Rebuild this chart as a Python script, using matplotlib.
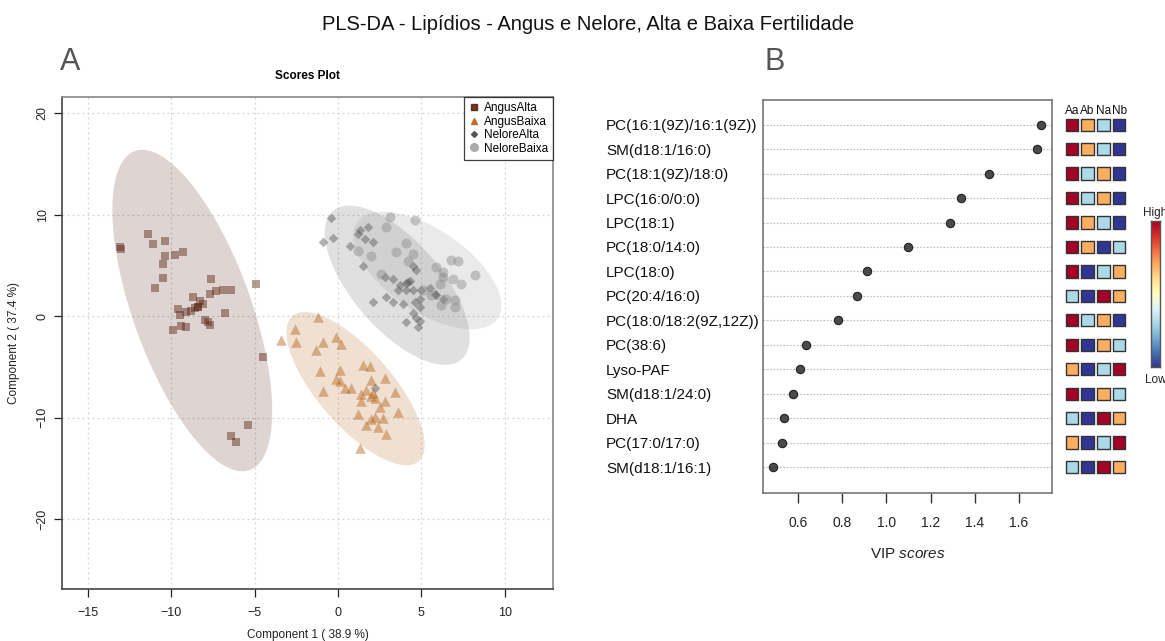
import numpy as np
import matplotlib
matplotlib.use("Agg")
import matplotlib.pyplot as plt
from matplotlib.colors import ListedColormap

plt.rcParams['font.family'] = ['Liberation Sans', 'DejaVu Sans']
plt.rcParams['mathtext.fontset'] = 'custom'
plt.rcParams['mathtext.rm'] = 'Liberation Sans'
plt.rcParams['mathtext.it'] = 'Liberation Sans:italic'

# ---------------- Panel A data (scores) ----------------
groups = ["AngusAlta", "AngusBaixa", "NeloreAlta", "NeloreBaixa"]

angus_alta_x = [-13.1, -13.0, -11.4, -11.1, -10.4, -10.4, -9.8, -9.3, -10.5, -10.5, -11.0, -7.6, -4.9,
                -8.7, -8.3, -7.7, -7.3, -6.9, -6.4, -8.6, -8.8, -8.4, -9.6, -9.5, -9.1, -6.8, -8.0,
                -7.7, -7.8, -9.9, -9.4, -9.1, -8.1, -8.4, -4.5, -5.4, -6.4, -6.1]
angus_alta_y = [6.8, 6.6, 8.1, 7.1, 7.4, 5.9, 6.0, 6.3, 5.1, 3.8, 2.8, 3.7, 3.2,
                1.9, 1.5, 2.2, 2.5, 2.6, 2.6, 0.8, 0.5, 0.9, 0.7, 0.1, 0.4, 0.3, -0.4,
                -0.9, -0.6, -1.4, -1.0, -1.1, 1.2, 0.9, -4.0, -10.7, -11.8, -12.4]

angus_baixa_x = [-1.2, -2.6, -3.4, -2.5, -1.3, -0.9, -0.1, 0.2, 1.5, 1.9, -1.1, 0.1, -0.1, 0.1, 2.0,
                 2.8, 0.4, 0.8, -0.9, 1.4, 1.7, 2.0, 2.2, 3.4, 1.4, 2.8, 2.5, 1.2, 3.6, 2.2, 2.7,
                 1.7, 2.4, 2.9, 1.3, 2.0, 2.1]
angus_baixa_y = [-0.1, -1.3, -2.4, -2.6, -3.3, -2.6, -2.1, -2.7, -4.8, -4.9, -5.4, -5.3, -6.2, -6.4, -6.3,
                 -6.1, -7.1, -7.1, -7.4, -7.7, -7.3, -7.9, -8.1, -7.5, -8.4, -8.4, -9.0, -9.6, -9.5, -9.9, -10.0,
                 -10.7, -10.9, -11.6, -13.0, -10.1, -7.6]

nelore_alta_x = [-0.4, -0.9, -0.3, 0.7, 1.2, 1.3, 1.8, 1.6, 2.1, 1.5, 2.8, 3.3, 3.7, 3.6, 4.2, 4.3, 4.1,
                 4.5, 4.7, 4.1, 4.5, 5.0, 5.5, 5.8, 2.9, 3.3, 3.9, 2.1, 4.6, 4.9, 4.9, 4.5, 4.1, 4.7,
                 4.9, 4.8, 6.3, 5.9, 2.2]
nelore_alta_y = [9.7, 7.3, 7.7, 6.9, 8.1, 8.5, 8.8, 7.6, 7.3, 4.9, 3.9, 3.7, 3.1, 2.6, 3.4, 3.5, 3.3,
                 4.9, 4.5, 2.6, 2.6, 2.6, 2.8, 2.2, 1.9, 1.4, 1.2, 1.4, 1.4, 1.7, 0.9, 0.3, -0.6, -0.2,
                 -0.5, -1.1, 1.7, 2.1, -7.1]

nelore_baixa_x = [3.1, 4.6, 2.9, 4.1, 3.5, 4.5, 1.2, 2.0, 4.2, 2.6, 5.9, 6.3, 6.3, 6.8, 7.2, 8.2, 6.1,
                  6.9, 7.4, 5.1, 5.6, 6.5, 7.0, 6.2, 7.0]
nelore_baixa_y = [9.8, 9.5, 8.8, 7.2, 6.3, 6.1, 6.4, 5.9, 5.4, 4.2, 4.8, 4.3, 3.9, 5.5, 5.4, 4.1, 3.2,
                  3.7, 3.2, 2.6, 2.1, 1.7, 1.6, 1.1, 0.9]

# 95% confidence ellipses: centre and shape matrix (sxx, syy, sxy)
ell_cx = [-8.75, 1.05, 3.55, 5.35]
ell_cy = [0.55, -7.15, 3.05, 4.5]
ell_sxx = [23.0, 17.2, 18.9, 19.8]
ell_syy = [251.0, 57.0, 61.6, 33.6]
ell_sxy = [-47.6, -23.0, -22.5, -15.4]

comp1_pct = 38.9
comp2_pct = 37.4

# ---------------- Panel B data (VIP) ----------------
features = ["PC(16:1(9Z)/16:1(9Z))", "SM(d18:1/16:0)", "PC(18:1(9Z)/18:0)", "LPC(16:0/0:0)",
            "LPC(18:1)", "PC(18:0/14:0)", "LPC(18:0)", "PC(20:4/16:0)", "PC(18:0/18:2(9Z,12Z))",
            "PC(38:6)", "Lyso-PAF", "SM(d18:1/24:0)", "DHA", "PC(17:0/17:0)", "SM(d18:1/16:1)"]
vip = [1.700, 1.681, 1.465, 1.338, 1.288, 1.098, 0.914, 0.867, 0.782, 0.635, 0.608, 0.576,
       0.538, 0.529, 0.488]
heat_cols = ["Aa", "Ab", "Na", "Nb"]
# relative level per group (4 = high ... 1 = low)
heat_aa = [4, 4, 4, 4, 4, 4, 4, 2, 4, 4, 3, 4, 2, 3, 2]
heat_ab = [3, 3, 2, 2, 3, 3, 1, 1, 2, 1, 1, 1, 1, 1, 1]
heat_na = [2, 2, 3, 3, 2, 1, 2, 4, 3, 3, 2, 3, 4, 2, 4]
heat_nb = [1, 1, 1, 1, 1, 2, 3, 3, 1, 2, 4, 2, 3, 4, 3]

# ---------------- styles ----------------
W, H = 1165, 641
fig = plt.figure(figsize=(W / 100, H / 100), dpi=100)

def fbox(x0, y0, x1, y1):
    return [x0 / W, 1 - y1 / H, (x1 - x0) / W, (y1 - y0) / H]

fig.text(588 / W, 1 - 24 / H, "PLS-DA - Lipídios - Angus e Nelore, Alta e Baixa Fertilidade",
         ha="center", va="center", fontsize=14.5, color="#111111")
fig.text(70 / W, 1 - 62 / H, "A", ha="center", va="center", fontsize=22, color="#555555")
fig.text(775 / W, 1 - 62 / H, "B", ha="center", va="center", fontsize=22, color="#555555")

# ---------------- Panel A ----------------
ax = fig.add_axes(fbox(62, 97, 553, 589))
base_cols = ["#5a2410", "#b5651d", "#555555", "#8c8c8c"]
ell_cols = ["#5a2a1a", "#b5651d", "#666666", "#999999"]
markers = ["s", "^", "D", "o"]
sizes = [40, 58, 24, 52]
xs = [angus_alta_x, angus_baixa_x, nelore_alta_x, nelore_baixa_x]
ys = [angus_alta_y, angus_baixa_y, nelore_alta_y, nelore_baixa_y]

t = np.linspace(0, 2 * np.pi, 300)
for i in range(4):
    S = np.array([[ell_sxx[i], ell_sxy[i]], [ell_sxy[i], ell_syy[i]]])
    L = np.linalg.cholesky(S)
    pts = L @ np.vstack([np.cos(t), np.sin(t)])
    ax.fill(ell_cx[i] + pts[0], ell_cy[i] + pts[1], color=ell_cols[i], alpha=0.2,
            lw=0, zorder=1)

for i in range(4):
    ax.scatter(xs[i], ys[i], marker=markers[i], s=sizes[i], color=base_cols[i],
               alpha=0.45, lw=0, zorder=3)

ax.set_xlim(-16.57, 12.9)
ax.set_ylim(-26.9, 21.6)
ax.set_xticks([-15, -10, -5, 0, 5, 10])
ax.set_yticks([-20, -10, 0, 10, 20])
ax.grid(True, color="#d4d4d4", linestyle=(0, (1.5, 2.5)), lw=0.9, zorder=0)
ax.set_axisbelow(True)
ax.tick_params(axis="both", length=6, width=0.9, color="#222222", labelsize=9, labelcolor="#222222")
ax.tick_params(axis="x", pad=7)
for lab in ax.get_yticklabels():
    lab.set_rotation(90)
    lab.set_va("center")
for s in ["top", "right"]:
    ax.spines[s].set_color("#888888")
for s in ["left", "bottom"]:
    ax.spines[s].set_color("#444444")
for s in ax.spines.values():
    s.set_linewidth(1.2)
ax.set_xlabel(f"Component 1 ( {comp1_pct} %)", fontsize=8.5, labelpad=7, color="#222222")
ax.set_ylabel(f"Component 2 ( {comp2_pct} %)", fontsize=8.5, labelpad=12, color="#222222")
ax.set_title("Scores Plot", fontsize=8.5, fontweight="bold", pad=13)

handles = [plt.Line2D([], [], marker=markers[i], color=base_cols[i] if i != 3 else "#aaaaaa",
                      ls="none", ms=[4, 4.5, 3, 5.5][i], alpha=0.9 if i < 2 else 1.0)
           for i in range(4)]
leg = ax.legend(handles, groups, loc="upper right", fontsize=8.5, frameon=True, fancybox=False,
                borderaxespad=0, handlelength=0.8, handletextpad=0.4, labelspacing=0.12,
                borderpad=0.45)
leg.get_frame().set_edgecolor("#111111")
leg.get_frame().set_linewidth(0.9)

# ---------------- Panel B ----------------
bx = fig.add_axes(fbox(763, 100, 1052, 492.7))
rows = np.arange(len(features))
for r in rows:
    bx.axhline(r, color="#bbbbbb", lw=0.8, ls=(0, (1.5, 1.5)), zorder=0)
bx.scatter(vip, rows, s=36, color="#4a4a4a", edgecolor="#222222", lw=0.8, zorder=3)
bx.set_ylim(15.05, -1.01)
bx.set_xlim(0.442, 1.749)
bx.set_yticks(rows)
bx.set_yticklabels(features, fontsize=11, color="#111111", ha="left")
bx.tick_params(axis="y", length=0, pad=157 * 0.72)
bx.set_xticks([0.6, 0.8, 1.0, 1.2, 1.4, 1.6])
bx.set_xticklabels(["0.6", "0.8", "1.0", "1.2", "1.4", "1.6"])
bx.tick_params(axis="x", length=7, width=1.0, color="#333333", labelsize=10, pad=10, labelcolor="#222222")
for s in bx.spines.values():
    s.set_color("#777777")
    s.set_linewidth(1.2)
bx.set_xlabel("VIP $\\mathit{scores}$", fontsize=11, labelpad=12, color="#222222")

# heatmap
hx = fig.add_axes(fbox(1063.75, 100, 1127.25, 492.7))
heat = np.array([heat_aa, heat_ab, heat_na, heat_nb])
hcmap = ListedColormap(["#313695", "#abd9e9", "#fdae61", "#a50026"])
for c in range(4):
    hx.scatter(np.full(len(features), c), rows, c=heat[c], cmap=hcmap, vmin=0.5, vmax=4.5,
               marker="s", s=78, edgecolors="#333333", linewidths=1.0)
    hx.text(c, -0.58, heat_cols[c], ha="center", va="center", fontsize=8.5, color="#111111")
hx.set_xlim(-0.5, 3.5)
hx.set_ylim(15.05, -1.01)
hx.axis("off")

# colour bar
cx = fig.add_axes(fbox(1151, 221, 1160, 367))
grad = np.linspace(0, 1, 256).reshape(-1, 1)
cx.imshow(grad, cmap="RdYlBu_r", aspect="auto", origin="lower")
cx.set_xticks([])
cx.set_yticks([])
for s in cx.spines.values():
    s.set_color("#555555")
    s.set_linewidth(1.0)
fig.text(1143 / W, 1 - 213 / H, "High", ha="left", va="center", fontsize=8.5, color="#222222")
fig.text(1145 / W, 1 - 380 / H, "Low", ha="left", va="center", fontsize=8.5, color="#222222")

fig.savefig("out.png", dpi=100)
